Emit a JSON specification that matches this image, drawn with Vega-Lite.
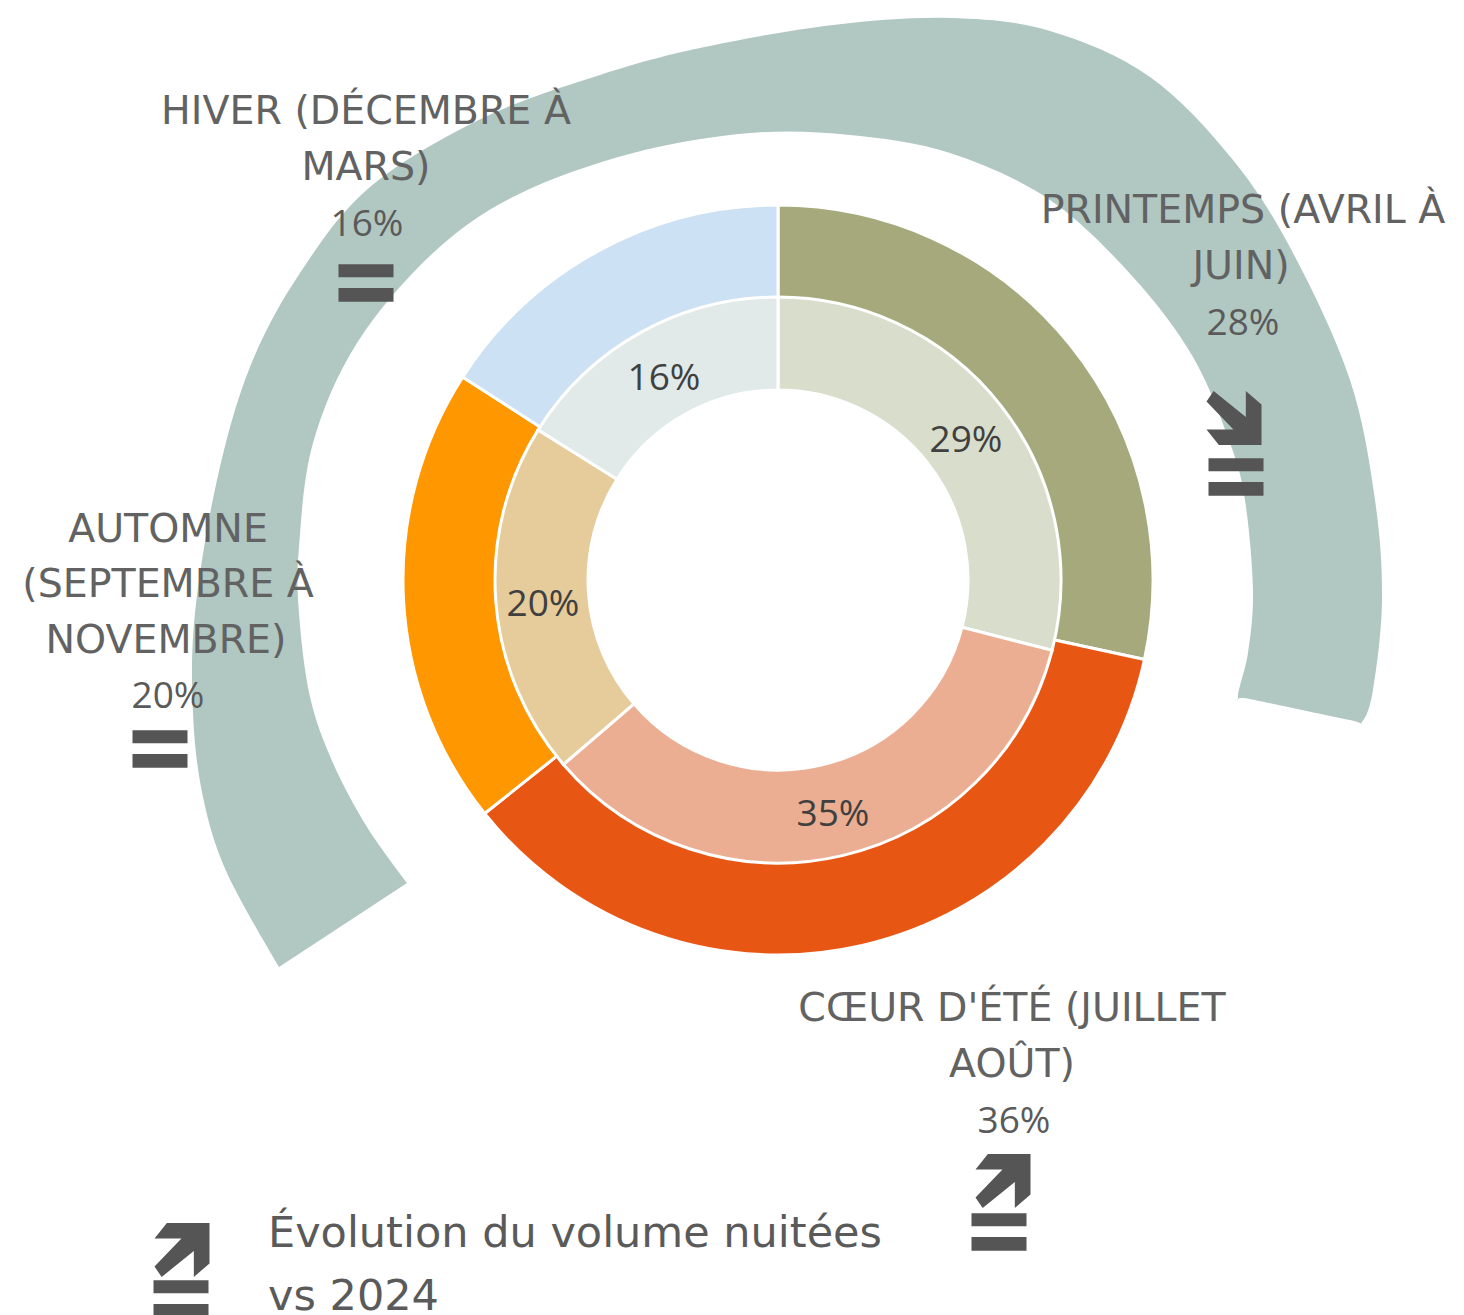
{
"$schema":"https://vega.github.io/schema/vega-lite/v6.json",
"width":1464,"height":1315,"padding":0,"autosize":{"type":"none"},
"background":"white",
"config":{"view":{"stroke":null}},
"datasets":{
"band":[
{"i":1,"x":279,"y":967},{"i":2,"x":227,"y":873},{"i":3,"x":203,"y":797},{"i":4,"x":193,"y":713},{"i":5,"x":195,"y":613},{"i":6,"x":217,"y":480},{"i":7,"x":250,"y":367},{"i":8,"x":300,"y":273},{"i":9,"x":370,"y":187},{"i":10,"x":483,"y":118},{"i":11,"x":600,"y":75},{"i":12,"x":700,"y":48},{"i":13,"x":833,"y":25},{"i":14,"x":950,"y":18},{"i":15,"x":1050,"y":31},{"i":16,"x":1150,"y":77},{"i":17,"x":1233,"y":160},{"i":18,"x":1293,"y":253},{"i":19,"x":1350,"y":380},{"i":20,"x":1375,"y":500},{"i":21,"x":1382,"y":600},{"i":22,"x":1373,"y":690},{"i":23,"x":1362,"y":722},
{"i":24,"x":1350,"y":720},{"i":25,"x":1250,"y":699},{"i":26,"x":1238,"y":697},{"i":27,"x":1248,"y":653},{"i":28,"x":1253,"y":590},{"i":29,"x":1245,"y":500},{"i":30,"x":1230,"y":443},{"i":31,"x":1193,"y":357},{"i":32,"x":1133,"y":277},{"i":33,"x":1050,"y":200},{"i":34,"x":950,"y":153},{"i":35,"x":850,"y":135},{"i":36,"x":750,"y":133},{"i":37,"x":633,"y":153},{"i":38,"x":517,"y":195},{"i":39,"x":433,"y":253},{"i":40,"x":357,"y":343},{"i":41,"x":313,"y":443},{"i":42,"x":299,"y":547},{"i":43,"x":299,"y":613},{"i":44,"x":310,"y":697},{"i":45,"x":333,"y":763},{"i":46,"x":367,"y":827},{"i":47,"x":407,"y":883}
],
"seasons":[
{"o":1,"name":"Printemps","share2025":28.4,"share2024":29},
{"o":2,"name":"Coeur d'été","share2025":35.9,"share2024":34.7},
{"o":3,"name":"Automne","share2025":19.8,"share2024":20.2},
{"o":4,"name":"Hiver","share2025":15.9,"share2024":16.1}
],
"inner":[
{"t":"29%","x":966,"y":452},{"t":"35%","x":833,"y":826},{"t":"20%","x":543,"y":616},{"t":"16%","x":664,"y":390}
],
"labels":[
{"t":"HIVER (DÉCEMBRE À","x":366,"y":124},{"t":"MARS)","x":366,"y":180},
{"t":"PRINTEMPS (AVRIL À","x":1243,"y":223},{"t":"JUIN)","x":1241,"y":279},
{"t":"AUTOMNE","x":168,"y":542},{"t":"(SEPTEMBRE À","x":168,"y":597},{"t":"NOVEMBRE)","x":166,"y":653},
{"t":"CŒUR D'ÉTÉ (JUILLET","x":1012,"y":1021},{"t":"AOÛT)","x":1012,"y":1077}
],
"pcts":[
{"t":"16%","x":367,"y":236},{"t":"28%","x":1243,"y":335},{"t":"20%","x":168,"y":708},{"t":"36%","x":1014,"y":1133}
],
"legend":[
{"t":"Évolution du volume nuitées","x":268,"y":1247},{"t":"vs 2024","x":268,"y":1310}
],
"icons":[
{"k":"egal","x":366,"y":283},
{"k":"egal","x":1236,"y":477},{"k":"baisse","x":1234,"y":418},
{"k":"egal","x":160,"y":749},
{"k":"egal","x":999,"y":1232},{"k":"hausse","x":1003,"y":1181},
{"k":"egal","x":181,"y":1299},{"k":"hausse","x":182,"y":1250}
]
},
"encoding":{
"x":{"type":"quantitative","scale":{"domain":[0,1464],"range":[0,1464]},"axis":null},
"y":{"type":"quantitative","scale":{"domain":[0,1315],"range":[0,1315]},"axis":null}
},
"layer":[
{"data":{"name":"band"},"mark":{"type":"line","filled":true,"fill":"#b0c7c2","stroke":"#b0c7c2","strokeWidth":0,"interpolate":"cardinal"},
 "encoding":{"x":{"field":"x","type":"quantitative"},"y":{"field":"y","type":"quantitative"},"order":{"field":"i","type":"quantitative"}}},
{"data":{"name":"seasons"},"mark":{"type":"arc","innerRadius":282,"outerRadius":375,"stroke":"white","strokeWidth":3},
 "encoding":{"x":{"datum":778,"type":"quantitative"},"y":{"datum":580,"type":"quantitative"},
  "theta":{"field":"share2025","type":"quantitative","stack":true},
  "order":{"field":"o","type":"quantitative"},
  "color":{"field":"name","type":"nominal","legend":null,"scale":{"domain":["Printemps","Coeur d'été","Automne","Hiver"],"range":["#a5a97b","#e85614","#fe9700","#cce1f4"]}}}},
{"data":{"name":"seasons"},"mark":{"type":"arc","innerRadius":190,"outerRadius":283,"stroke":"white","strokeWidth":3},
 "encoding":{"x":{"datum":778,"type":"quantitative"},"y":{"datum":580,"type":"quantitative"},
  "theta":{"field":"share2024","type":"quantitative","stack":true},
  "order":{"field":"o","type":"quantitative"},
  "fill":{"field":"name","type":"nominal","legend":null,"scale":{"domain":["Printemps","Coeur d'été","Automne","Hiver"],"range":["#d9ddcb","#ebae92","#e6cc9a","#e1eae9"]}}}},
{"data":{"name":"inner"},"mark":{"type":"text","font":"Open Sans","fontSize":37,"align":"center","baseline":"alphabetic","fill":"#404040"},
 "encoding":{"x":{"field":"x","type":"quantitative"},"y":{"field":"y","type":"quantitative"},"text":{"field":"t"}}},
{"data":{"name":"pcts"},"mark":{"type":"text","font":"Open Sans","fontSize":37,"align":"center","baseline":"alphabetic","fill":"#5a5a5a"},
 "encoding":{"x":{"field":"x","type":"quantitative"},"y":{"field":"y","type":"quantitative"},"text":{"field":"t"}}},
{"data":{"name":"labels"},"mark":{"type":"text","font":"DejaVu Sans","fontSize":39.5,"align":"center","baseline":"alphabetic","fill":"#626262"},
 "encoding":{"x":{"field":"x","type":"quantitative"},"y":{"field":"y","type":"quantitative"},"text":{"field":"t"}}},
{"data":{"name":"legend"},"mark":{"type":"text","font":"DejaVu Sans","fontSize":43,"align":"left","baseline":"alphabetic","fill":"#5a5a5a"},
 "encoding":{"x":{"field":"x","type":"quantitative"},"y":{"field":"y","type":"quantitative"},"text":{"field":"t"}}},
{"data":{"name":"icons"},"mark":{"type":"point","filled":true,"fill":"#555555","opacity":1,"strokeWidth":0,"size":3025},
 "encoding":{"x":{"field":"x","type":"quantitative"},"y":{"field":"y","type":"quantitative"},
  "shape":{"field":"k","type":"nominal","legend":null,"scale":{"domain":["egal","hausse","baisse"],"range":["M-1-.68H1V-.21H-1ZM-1 .18H1V.68H-1Z","M-.74 .98L-1 .6L-.02 -.42L-1 -.42L-.55 -.98L1 -.98L1 .49L.43 .98L.43 .04Z","M-.74 -.98L-1 -.6L-.02 .42L-1 .42L-.55 .98L1 .98L1 -.49L.43 -.98L.43 -.04Z"]}}}}
]
}
